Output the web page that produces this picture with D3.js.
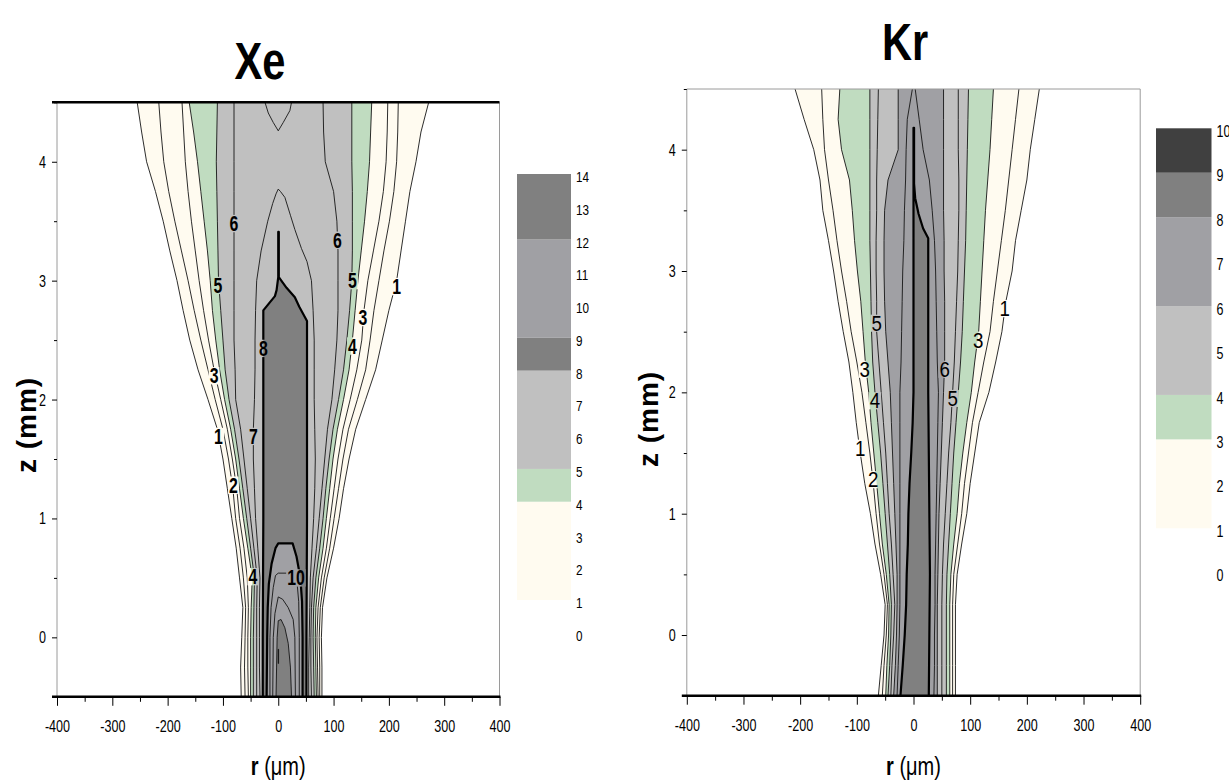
<!DOCTYPE html>
<html>
<head>
<meta charset="utf-8">
<script src="https://d3js.org/d3.v7.min.js"></script>
<style>
  body { margin: 0; background: #fff; }
  svg { display: block; }
  text { font-family: "Liberation Sans", Arial, sans-serif; fill: #000; }
</style>
</head>
<body>
<svg id="chart" width="1229" height="783"></svg>
<script>
// Heights (mm) at which the flank positions of every iso-level are tabulated
const zSteps = [-0.5, -0.25, 0, 0.25, 0.5, 0.75, 1, 1.25, 1.5, 1.75, 2, 2.25, 2.5, 2.75, 3, 3.25, 3.5, 3.75, 4, 4.25, 4.5];

// ---- Xe: radial position (µm) of iso-levels 1..6 on the left / right flank ----
const xeLeftEdges = [
  [-67, -68, -66, -64, -70, -76, -84, -92, -100, -110, -127, -145, -160, -172, -183, -196, -208, -222, -238, -247, -255],
  [-60, -61, -60, -59, -63, -69, -77, -82, -90, -100, -114, -127, -140, -152, -163, -175, -187, -198, -207, -212, -216],
  [-54, -55, -55, -54, -56, -62, -70, -75, -83, -92, -104, -116, -126, -135, -143, -150, -157, -163, -168, -171, -174],
  [-50, -50, -50, -49, -47, -55, -63, -70, -77, -86, -97, -106, -113, -119, -123, -128, -134, -140, -146, -153, -161],
  [-45, -45, -45, -44, -43, -50, -57, -64, -71, -79, -89, -96, -100, -104, -108, -109, -110, -111, -112, -111, -110],
  [-39, -39, -39, -39, -38, -44, -50, -56, -62, -68, -77, -78, -80, -80, -80, -80, -80, -80, -80, -80, -80]
];
const xeRightEdges = [
  [79, 79, 78, 80, 88, 100, 110, 118, 128, 140, 158, 176, 188, 200, 214, 222, 230, 238, 249, 258, 272],
  [75, 75, 74, 76, 83, 93, 101, 109, 117, 127, 143, 158, 166, 173, 182, 191, 201, 209, 214, 216, 217],
  [72, 71, 70, 72, 78, 87, 94, 101, 108, 117, 130, 142, 151, 155, 162, 172, 182, 190, 195, 197, 198],
  [69, 68, 67, 68, 73, 81, 87, 93, 99, 107, 118, 128, 134, 139, 144, 150, 156, 161, 165, 167, 169],
  [65, 64, 63, 64, 68, 75, 81, 86, 92, 99, 109, 118, 124, 129, 133, 134, 134, 134, 133, 133, 133],
  [60, 59, 59, 60, 63, 69, 74, 79, 84, 89, 97, 102, 106, 108, 108, 108, 106, 100, 85, 82, 81]
];
// Xe inner iso-levels, traced [r, z] from the lower left round to the lower right
const xeLevel7 = [[-33, -0.5], [-34, -0.25], [-34, 0], [-34, 0.25], [-33, 0.5], [-37, 0.75], [-41, 1], [-43, 1.25], [-45, 1.5], [-45, 1.75], [-43, 2], [-42, 2.25], [-42, 2.5], [-41, 2.75], [-39, 3], [-31, 3.25], [-19, 3.5], [-10, 3.65], [-4, 3.73], [0, 3.77], [4, 3.75], [12, 3.7], [22, 3.55], [30, 3.43], [42, 3.27], [52, 3.16], [60, 3], [63, 2.75], [65, 2.5], [65, 2.25], [65, 2], [66, 1.75], [67, 1.5], [66, 1.25], [64, 1], [61, 0.75], [58, 0.5], [57, 0.25], [56, 0], [55, -0.25], [55, -0.5]];
const xeLevel7Top = [[-24, 4.5], [-18, 4.41], [-9, 4.33], [0, 4.26], [9, 4.33], [21, 4.43], [24, 4.5]];
const xeLevel8 = [[-28, -0.5], [-28, 0], [-27, 1], [-27, 2], [-27, 2.75], [-6, 2.87], [-3, 2.92], [0, 3.03], [0, 3.41], [1, 3.41], [1, 3.03], [15, 2.94], [30, 2.86], [38, 2.78], [52, 2.66], [52, 2], [52, 1], [51, 0], [51, -0.5]];
const xeLevel9 = [[-21, -0.5], [-20, 0], [-19, 0.25], [-17, 0.45], [-12, 0.62], [-5, 0.75], [0, 0.79], [26, 0.79], [33, 0.68], [40, 0.5], [43, 0.3], [44, 0], [44, -0.5]];
const xeLevel10 = [[-15, -0.5], [-15, 0], [-13, 0.25], [-9, 0.42], [-5, 0.52], [0, 0.54], [28, 0.54], [34, 0.46], [37, 0.3], [38, 0], [38, -0.5]];
const xeLevel11 = [[-10, -0.5], [-9, 0], [-6, 0.2], [0, 0.34], [8, 0.32], [18, 0.25], [27, 0.15], [30, 0], [31, -0.5]];
const xeLevel12 = [[-4, -0.5], [-3, -0.25], [-2, 0], [0, 0.14], [5, 0.15], [12, 0.08], [18, -0.05], [22, -0.25], [24, -0.5]];
const xeLevel13 = [[0, -0.22], [0, -0.1], [0.6, -0.1], [0.6, -0.22]];
// Xe contour labels: [text, r, z]
const xeLabels = [["6", -80, 3.48], ["6", 107, 3.34], ["5", -109, 2.96], ["5", 134, 3.0], ["1", 214, 2.95], ["3", 153, 2.69], ["4", 134, 2.45], ["8", -27, 2.43], ["3", -116, 2.2], ["1", -108, 1.69], ["7", -45, 1.69], ["2", -81, 1.28], ["4", -46, 0.51], ["10", 32, 0.5]];
// Xe colour scale: band edges, band colours, tick labels
const xeBandEdges = [1, 4, 5, 8, 9, 12, 14];
const xeBandColors = ["#FFFBF0", "#C0DCC0", "#C0C0C0", "#808080", "#A0A0A4", "#808080"];
const xeScaleTicks = [0, 1, 2, 3, 4, 5, 6, 7, 8, 9, 10, 11, 12, 13, 14];

// ---- Kr: radial position (µm) of iso-levels 1..7 on the left / right flank ----
const krLeftEdges = [
  [-62, -57, -52, -50, -58, -68, -76, -86, -94, -101, -107, -114, -124, -133, -141, -150, -160, -165, -176, -193, -209],
  [-55, -52, -48, -46, -52, -60, -66, -71, -77, -84, -91, -100, -110, -118, -127, -135, -142, -150, -157, -160, -162],
  [-49, -47, -44, -43, -48, -55, -60, -65, -70, -75, -79, -85, -89, -93, -99, -104, -108, -113, -127, -133, -130],
  [-45, -42, -40, -39, -42, -46, -50, -54, -58, -63, -68, -72, -74, -75, -76, -77, -77, -77, -77, -77, -77],
  [-40, -38, -35, -33, -36, -39, -43, -46, -49, -53, -57, -61, -65, -65, -66, -66, -65, -65, -64, -63, -62],
  [-35, -32, -30, -29, -29, -31, -33, -35, -37, -39, -41, -45, -49, -51, -52, -52, -51, -45, -27, -27, -27],
  [-29, -27, -25, -24, -24, -24, -24, -24, -24, -24, -24, -22, -21, -20, -19, -17, -16, -14, -13, -11, -2]
];
const krRightEdges = [
  [74, 74, 74, 74, 77, 85, 94, 100, 108, 116, 133, 145, 156, 163, 174, 180, 190, 200, 206, 214, 222],
  [69, 69, 69, 69, 71, 78, 85, 90, 97, 104, 114, 124, 135, 141, 148, 155, 162, 168, 174, 180, 186],
  [64, 64, 64, 64, 66, 71, 77, 81, 87, 94, 102, 108, 115, 118, 121, 124, 127, 131, 135, 138, 141],
  [58, 58, 58, 58, 59, 62, 65, 68, 71, 75, 79, 83, 86, 88, 90, 92, 93, 94, 95, 96, 97],
  [50, 50, 50, 50, 51, 53, 56, 59, 62, 66, 69, 72, 74, 76, 78, 79, 80, 80, 79, 79, 79],
  [42, 42, 42, 42, 43, 44, 45, 47, 49, 51, 53, 55, 55, 55, 54, 54, 53, 53, 53, 53, 53],
  [36, 37, 37, 38, 38, 39, 40, 41, 42, 43, 44, 42, 41, 40, 39, 37, 33, 28, 17, 10, 3]
];
const krLevel8 = [[-23, -0.5], [-19, -0.25], [-15.5, 0], [-13, 0.25], [-12, 0.5], [-10, 0.75], [-9, 1], [-7, 1.25], [-4, 1.5], [-1.5, 1.75], [0, 2], [0, 3], [0, 4.18], [1, 4.18], [1, 3.72], [3, 3.6], [9, 3.47], [17, 3.35], [26, 3.27], [26, 3], [26, 2], [27, 1.5], [28, 1], [29, 0.5], [28, 0], [27, -0.5]];
const krLabels = [["5", -65, 2.57], ["1", 161, 2.69], ["3", 114, 2.43], ["3", -86, 2.19], ["6", 55, 2.19], ["4", -68, 1.93], ["5", 69, 1.95], ["1", -94, 1.54], ["2", -71, 1.28]];
const krBandEdges = [1, 3, 4, 6, 8, 9, 10];
const krBandColors = ["#FFFBF0", "#C0DCC0", "#C0C0C0", "#A0A0A4", "#808080", "#404040"];
const krScaleTicks = [0, 1, 2, 3, 4, 5, 6, 7, 8, 9, 10];

// Axis ticks shared by both panels
const rTicks = [-400, -300, -200, -100, 0, 100, 200, 300, 400];
const rMinorTicks = [-350, -250, -150, -50, 50, 150, 250, 350];
const zTicks = [0, 1, 2, 3, 4];
const zMinorTicks = [-0.5, 0.5, 1.5, 2.5, 3.5, 4.5];

const svg = d3.select("#chart");
const defs = svg.append("defs");

// narrow lettering: squeeze a text horizontally about its own anchor
function narrow(sel, s, rot) {
  sel.each(function () {
    const t = d3.select(this);
    const x = +t.attr("x") || 0, y = +t.attr("y") || 0;
    t.attr("x", 0).attr("y", 0)
      .attr("transform", `translate(${x},${y})${rot ? ` rotate(${rot})` : ""} scale(${s},1)`);
  });
  return sel;
}

function drawPanel(cfg) {
  const x = d3.scaleLinear().domain([-400, 400]).range(cfg.xRange);
  const y = d3.scaleLinear().domain([-0.5, 4.5]).range(cfg.yRange);
  const line = d3.line().x(d => x(d[0])).y(d => y(d[1]));
  const g = svg.append("g");

  const bandColor = level => {
    for (let i = 0; i < cfg.bandEdges.length - 1; i++) {
      if (level >= cfg.bandEdges[i] && level < cfg.bandEdges[i + 1]) return cfg.bandColors[i];
    }
    return "none";
  };

  // assemble contour shapes
  const shapes = [];
  cfg.left.forEach((row, i) => {
    const L = row.map((r, j) => [r, zSteps[j]]);
    const R = cfg.right[i].map((r, j) => [r, zSteps[j]]);
    shapes.push({ level: i + 1, fill: L.concat(R.slice().reverse()), strokes: [L, R] });
  });
  cfg.loops.forEach(([level, pts, closed]) => {
    shapes.push({ level, fill: pts, strokes: [closed ? pts.concat([pts[0]]) : pts] });
  });
  shapes.sort((a, b) => a.level - b.level);

  const clipId = cfg.id + "-clip";
  defs.append("clipPath").attr("id", clipId).append("rect")
    .attr("x", cfg.xRange[0]).attr("y", cfg.yRange[1])
    .attr("width", cfg.xRange[1] - cfg.xRange[0]).attr("height", cfg.yRange[0] - cfg.yRange[1]);

  const fills = g.append("g").attr("clip-path", `url(#${clipId})`);
  shapes.forEach(s => {
    fills.append("path").attr("d", line(s.fill) + "Z")
      .attr("fill", bandColor(s.level)).attr("stroke", "none");
  });

  // line knock-outs behind the contour labels
  const maskId = cfg.id + "-mask";
  const mask = defs.append("mask").attr("id", maskId).attr("maskUnits", "userSpaceOnUse")
    .attr("x", 0).attr("y", 0).attr("width", 1229).attr("height", 783);
  mask.append("rect").attr("x", 0).attr("y", 0).attr("width", 1229).attr("height", 783).attr("fill", "#fff");

  const lines = g.append("g").attr("clip-path", `url(#${clipId})`)
    .append("g").attr("mask", `url(#${maskId})`);
  shapes.forEach(s => {
    const bold = cfg.boldLevels.includes(s.level);
    s.strokes.forEach(st => {
      lines.append("path").attr("d", line(st))
        .attr("fill", "none").attr("stroke", bold ? "#000" : "#151515")
        .attr("stroke-width", bold ? 2.2 : 0.9).attr("stroke-linejoin", "round");
    });
  });

  const labels = g.append("g");
  cfg.labels.forEach(([t, r, z]) => {
    const cx = x(r), cy = y(z);
    const txt = labels.append("text").attr("x", cx).attr("y", cy)
      .attr("text-anchor", "middle").attr("dominant-baseline", "central")
      .attr("font-size", cfg.labelSize).attr("font-weight", cfg.labelWeight).text(t);
    narrow(txt, cfg.labelNarrow);
    const b = txt.node().getBBox();
    const s = cfg.labelNarrow;
    mask.append("rect").attr("x", cx + b.x * s - 1).attr("y", cy + b.y + b.height * 0.14)
      .attr("width", b.width * s + 2).attr("height", b.height * 0.72).attr("fill", "#000");
  });

  // frame
  const [x0, x1] = cfg.xRange, [yb, yt] = cfg.yRange;
  g.append("line").attr("x1", x0).attr("x2", x0).attr("y1", yt).attr("y2", yb).attr("stroke", "#9a9a9a").attr("stroke-width", 1);
  g.append("line").attr("x1", x1).attr("x2", x1).attr("y1", yt).attr("y2", yb).attr("stroke", "#9a9a9a").attr("stroke-width", 1);
  g.append("line").attr("x1", x0 - (cfg.thickTop ? 5 : 0)).attr("x2", x1).attr("y1", yt).attr("y2", yt)
    .attr("stroke", cfg.thickTop ? "#000" : "#9a9a9a").attr("stroke-width", cfg.thickTop ? 2.5 : 1);

  // axes
  const fmt = d => String(d);
  const xAxis = d3.axisBottom(x).tickValues(rTicks).tickSize(9).tickPadding(14).tickFormat(fmt);
  const xMinor = d3.axisBottom(x).tickValues(rMinorTicks).tickSize(5).tickFormat("");
  const yAxis = d3.axisLeft(y).tickValues(zTicks).tickSize(5).tickPadding(6).tickFormat(fmt);
  const yMinor = d3.axisLeft(y).tickValues(zMinorTicks).tickSize(3).tickFormat("");
  const styleAxis = sel => {
    sel.select(".domain").remove();
    sel.selectAll(".tick line").attr("stroke", "#000").attr("stroke-width", 1);
    sel.selectAll(".tick text").attr("font-size", 17).attr("font-family", null).attr("fill", "#000")
      .call(narrow, 0.74);
  };
  g.append("g").attr("transform", `translate(0,${yb})`).call(xAxis).call(styleAxis);
  g.append("g").attr("transform", `translate(0,${yb})`).call(xMinor).call(styleAxis);
  g.append("g").attr("transform", `translate(${x0},0)`).call(yAxis).call(styleAxis);
  g.append("g").attr("transform", `translate(${x0},0)`).call(yMinor).call(styleAxis);
  g.append("line").attr("x1", x0 - 5).attr("x2", x1 + 1).attr("y1", yb).attr("y2", yb).attr("stroke", "#000").attr("stroke-width", 2.5);

  // titles
  g.append("text").attr("x", cfg.titleX).attr("y", cfg.titleY).attr("text-anchor", "middle")
    .attr("font-size", 52).attr("font-weight", "bold").text(cfg.title).call(narrow, 0.8);
  const rl = g.append("text").attr("x", (x0 + x1) / 2).attr("y", 775).attr("text-anchor", "middle").attr("font-size", 25);
  rl.append("tspan").attr("font-weight", "bold").text("r ");
  rl.append("tspan").text("(\u03bcm)");
  narrow(rl, 0.8);
  g.append("text").attr("x", cfg.zLabelX).attr("y", cfg.zLabelY)
    .attr("text-anchor", "middle").attr("font-size", 28).attr("font-weight", "bold")
    .attr("letter-spacing", 1).text("z (mm)").call(narrow, 1, -90);

  // colour scale
  const c = d3.scaleLinear().domain(cfg.scaleDomain).range(cfg.scaleRange);
  const cb = g.append("g");
  cfg.bandColors.forEach((col, i) => {
    cb.append("rect").attr("x", cfg.barX[0]).attr("width", cfg.barX[1] - cfg.barX[0])
      .attr("y", c(cfg.bandEdges[i + 1])).attr("height", c(cfg.bandEdges[i]) - c(cfg.bandEdges[i + 1]))
      .attr("fill", col);
  });
  cfg.scaleTicks.forEach(v => {
    cb.append("text").attr("x", cfg.barX[1] + 5).attr("y", c(v) + 3).attr("dominant-baseline", "central")
      .attr("font-size", cfg.scaleFont).text(v).call(narrow, 0.78);
  });
}

drawPanel({
  id: "xe", title: "Xe", titleX: 260, titleY: 79,
  xRange: [57, 499.5], yRange: [696.8, 102.3], zLabelX: 36, zLabelY: 425, thickTop: true,
  left: xeLeftEdges, right: xeRightEdges,
  loops: [[7, xeLevel7, false], [7, xeLevel7Top, false], [8, xeLevel8, false], [9, xeLevel9, false],
          [10, xeLevel10, false], [11, xeLevel11, false], [12, xeLevel12, false], [13, xeLevel13, true]],
  labels: xeLabels, labelSize: 22, labelWeight: "bold", labelNarrow: 0.72, boldLevels: [8, 9],
  bandEdges: xeBandEdges, bandColors: xeBandColors, scaleTicks: xeScaleTicks,
  scaleDomain: [0, 14], scaleRange: [632.8, 174], barX: [517, 571], scaleFont: 15
});

drawPanel({
  id: "kr", title: "Kr", titleX: 905, titleY: 60,
  xRange: [686.8, 1140.2], yRange: [695.7, 89], zLabelX: 658, zLabelY: 419, thickTop: false,
  left: krLeftEdges, right: krRightEdges,
  loops: [[8, krLevel8, false]],
  labels: krLabels, labelSize: 22, labelWeight: "normal", labelNarrow: 0.85, boldLevels: [8],
  bandEdges: krBandEdges, bandColors: krBandColors, scaleTicks: krScaleTicks,
  scaleDomain: [0, 10], scaleRange: [572.7, 128.3], barX: [1156, 1211.5], scaleFont: 16
});
</script>
</body>
</html>
